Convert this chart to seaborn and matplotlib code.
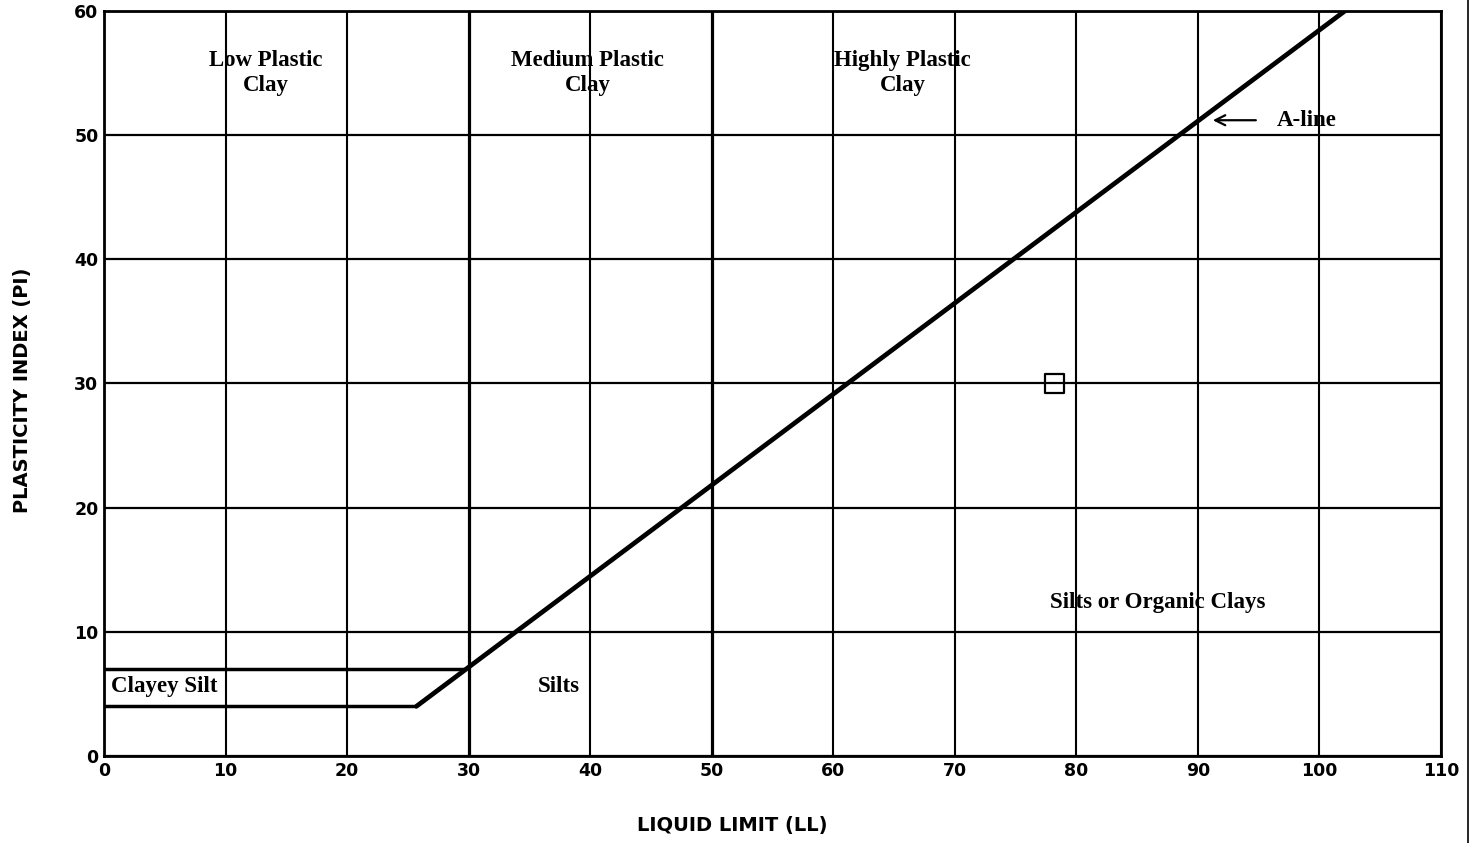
import matplotlib
matplotlib.use('Agg')
import matplotlib.pyplot as plt
from matplotlib.lines import Line2D
import seaborn as sns
import pandas as pd

# A-line and the low-plasticity boundary lines
aline_ll = [25.7, 102.1]
aline_pi = [4, 60]
low_ll = [0, 25.7]
low_pi = [4, 4]
upper_ll = [0, 29.7]
upper_pi = [7, 7]

# measured sample
sample_ll = [78.2]
sample_pi = [30]

xticks = list(range(0, 111, 10))
yticks = list(range(0, 61, 10))

# zone labels: text, LL, PI, alignment
zones = [
    ('Low Plastic\nClay', 13.3, 55.0, 'center'),
    ('Medium Plastic\nClay', 39.8, 55.0, 'center'),
    ('Highly Plastic\nClay', 65.7, 55.0, 'center'),
    ('Silts or Organic Clays', 86.7, 12.4, 'center'),
    ('Silts', 37.4, 5.6, 'center'),
    ('Clayey Silt', 0.6, 5.6, 'left'),
]

sns.set_style('white')
plt.rcParams['text.color'] = 'black'
plt.rcParams['xtick.color'] = 'black'
plt.rcParams['ytick.color'] = 'black'
plt.rcParams['axes.labelcolor'] = 'black'

fig = plt.figure(figsize=(14.8, 8.43), dpi=100)
ax = fig.add_axes([0.0703, 0.1032, 0.9033, 0.8838])

for x in xticks:
    lw = 2.3 if x in (30, 50) else 1.5
    ax.axvline(x, color='black', lw=lw, zorder=1)
for y in yticks:
    ax.axhline(y, color='black', lw=1.6, zorder=1)

sns.lineplot(x=aline_ll, y=aline_pi, ax=ax, color='black', lw=3.4, zorder=3)
sns.lineplot(x=low_ll, y=low_pi, ax=ax, color='black', lw=2.5, zorder=3)
sns.lineplot(x=upper_ll, y=upper_pi, ax=ax, color='black', lw=2.5, zorder=3)
sns.scatterplot(x=sample_ll, y=sample_pi, ax=ax, marker='s', s=170,
                facecolor='none', edgecolor='black', linewidth=1.6, zorder=4)

for txt, xx, yy, ha in zones:
    ax.text(xx, yy, txt, ha=ha, va='center', fontsize=16.5, fontweight='bold',
            family='Liberation Serif', linespacing=1.25, color='black', zorder=5)

ax.annotate('', xy=(91.0, 51.2), xytext=(95.0, 51.2),
            arrowprops=dict(arrowstyle='->', color='black', lw=1.6,
                            mutation_scale=18))
ax.text(96.5, 51.2, 'A-line', ha='left', va='center', fontsize=16.5,
        fontweight='bold', family='Liberation Serif', color='black')

ax.set_xlim(0, 110)
ax.set_ylim(0, 60)
ax.set_xticks(xticks)
ax.set_yticks(yticks)
ax.set_xticklabels([str(v) for v in xticks], family='DejaVu Sans',
                   fontweight='bold', fontsize=12.5)
ax.set_yticklabels([str(v) for v in yticks], family='DejaVu Sans',
                   fontweight='bold', fontsize=12.5)
ax.tick_params(axis='both', length=0, pad=4, colors='black')
for s in ax.spines.values():
    s.set_color('black')
    s.set_linewidth(2)

ax.set_xlabel('LIQUID LIMIT (LL)', family='DejaVu Sans', fontsize=14,
              fontweight='bold')
ax.xaxis.set_label_coords(0.47, -0.08)
ax.set_ylabel('PLASTICITY INDEX (PI)', family='DejaVu Sans', fontsize=14,
              fontweight='bold')
ax.yaxis.set_label_coords(-0.054, 0.491)

fig.add_artist(Line2D([0.992, 0.992], [0.0, 1.0], color='black', lw=1.2))

fig.savefig('out.png', dpi=100)
